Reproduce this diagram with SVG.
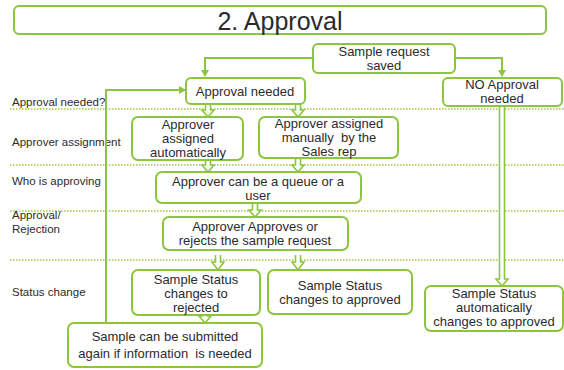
<svg xmlns="http://www.w3.org/2000/svg" width="564" height="370" viewBox="0 0 564 370">
<defs>
<style>
.box{fill:#fff;stroke:#8cc63e;stroke-width:2}
.t{font-family:"Liberation Sans",Arial,sans-serif;font-size:13px;fill:#2b2b2b;text-anchor:middle}
.lbl{font-family:"Liberation Sans",Arial,sans-serif;font-size:11.5px;fill:#2b2b2b}
.dot{stroke:#a2c83a;stroke-width:1.5;stroke-dasharray:1.5 1.5;fill:none}
.ln{fill:none;stroke:#8cc63e;stroke-width:2}
.blk{fill:#fff;stroke:#8cc63e;stroke-width:1.6;stroke-linejoin:miter}
</style>
<marker id="ah" markerWidth="8" markerHeight="8" refX="6" refY="4" orient="auto" markerUnits="userSpaceOnUse">
<path d="M0,0 L7,4 L0,8 z" fill="#8cc63e"/>
</marker>
</defs>
<rect width="564" height="370" fill="#fff"/>
<g id="lanes">
<line class="dot" x1="10" y1="109" x2="564" y2="109"/>
<line class="dot" x1="10" y1="165" x2="564" y2="165"/>
<line class="dot" x1="10" y1="211" x2="564" y2="211"/>
<line class="dot" x1="10" y1="260" x2="564" y2="260"/>
<text class="lbl" x="12" y="106">Approval needed?</text>
<text class="lbl" x="12" y="146">Approver assignment</text>
<text class="lbl" x="12" y="185">Who is approving</text>
<text class="lbl" x="12" y="219">Approval/</text>
<text class="lbl" x="12" y="233">Rejection</text>
<text class="lbl" x="12" y="296">Status change</text>
</g>
<g id="title">
<rect class="box" x="14" y="6" width="532" height="28" rx="5"/>
<text class="t" x="280" y="30" style="font-size:25px">2. Approval</text>
</g>
<g id="connectors">
<path class="ln" d="M313,58 H205 V76" marker-end="url(#ah)"/>
<path class="ln" d="M455,58 H502 V76" marker-end="url(#ah)"/>
<path class="ln" d="M106,323 V90 H185" marker-end="url(#ah)"/>
<path class="blk" d="M205.5,104 V110 H202 L208,117 L214,110 H210.5 V104"/>
<path class="blk" d="M295.5,104 V110 H292 L298,117 L304,110 H300.5 V104"/>
<path class="blk" d="M205.5,160 V165 H202 L208,172 L214,165 H210.5 V160"/>
<path class="blk" d="M295.5,158 V165 H292 L298,172 L304,165 H300.5 V158"/>
<path class="blk" d="M252.5,203 V210 H249 L255,217 L261,210 H257.5 V203"/>
<path class="blk" d="M215.5,255 V262 H212 L218,270 L224,262 H220.5 V255"/>
<path class="blk" d="M295.5,255 V262 H292 L298,270 L304,262 H300.5 V255"/>
<path class="blk" d="M202.5,310 V316 H199 L205,323 L211,316 H207.5 V310"/>
<path class="blk" d="M499.5,106 V279 H496 L502,286 L508,279 H504.5 V106"/>
</g>
<g id="n-saved">
<rect class="box" x="313" y="44" width="142" height="29" rx="5"/>
<text class="t" x="384" y="56">Sample request</text>
<text class="t" x="384" y="70">saved</text>
</g>
<g id="n-needed">
<rect class="box" x="186" y="78" width="119" height="26" rx="5"/>
<text class="t" x="245" y="96">Approval needed</text>
</g>
<g id="n-noapproval">
<rect class="box" x="443" y="78" width="119" height="28" rx="5"/>
<text class="t" x="502" y="89">NO Approval</text>
<text class="t" x="502" y="103">needed</text>
</g>
<g id="n-auto">
<rect class="box" x="132" y="117" width="111" height="43" rx="6"/>
<text class="t" x="188" y="129">Approver</text>
<text class="t" x="188" y="143">assigned</text>
<text class="t" x="188" y="157">automatically</text>
</g>
<g id="n-manual">
<rect class="box" x="259" y="117" width="139" height="41" rx="6"/>
<text class="t" x="329" y="128">Approver assigned</text>
<text class="t" x="329" y="142" xml:space="preserve">manually  by the</text>
<text class="t" x="329" y="156">Sales rep</text>
</g>
<g id="n-queue">
<rect class="box" x="156" y="172" width="205" height="31" rx="6"/>
<text class="t" x="258" y="186">Approver can be a queue or a</text>
<text class="t" x="258" y="200">user</text>
</g>
<g id="n-approves">
<rect class="box" x="163" y="217" width="185" height="33" rx="6"/>
<text class="t" x="255" y="231">Approver Approves or</text>
<text class="t" x="255" y="245">rejects the sample request</text>
</g>
<g id="n-rejected">
<rect class="box" x="132" y="270" width="128" height="45" rx="6"/>
<text class="t" x="196" y="284">Sample Status</text>
<text class="t" x="196" y="298">changes to</text>
<text class="t" x="196" y="312">rejected</text>
</g>
<g id="n-approved">
<rect class="box" x="268" y="270" width="144" height="44" rx="6"/>
<text class="t" x="340" y="290">Sample Status</text>
<text class="t" x="340" y="304">changes to approved</text>
</g>
<g id="n-autoapproved">
<rect class="box" x="425" y="286" width="138" height="45" rx="6"/>
<text class="t" x="494" y="298">Sample Status</text>
<text class="t" x="494" y="312">automatically</text>
<text class="t" x="494" y="326">changes to approved</text>
</g>
<g id="n-submit">
<rect class="box" x="68" y="323" width="194" height="44" rx="6"/>
<text class="t" x="165" y="341">Sample can be submitted</text>
<text class="t" x="165" y="358" xml:space="preserve">again if information  is needed</text>
</g>
</svg>
